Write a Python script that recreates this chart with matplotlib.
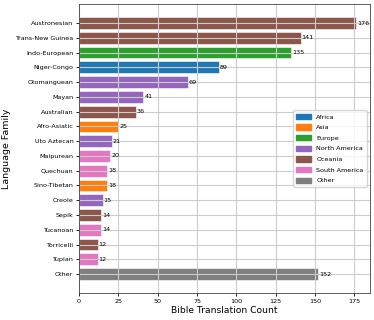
import matplotlib
matplotlib.use("Agg")
import matplotlib.pyplot as plt
from matplotlib.patches import Patch

families = ["Austronesian", "Trans-New Guinea", "Indo-European", "Niger-Congo",
            "Otomanguean", "Mayan", "Australian", "Afro-Asiatic", "Uto Aztecan",
            "Maipurean", "Quechuan", "Sino-Tibetan", "Creole", "Sepik",
            "Tucanoan", "Torricelli", "Tupian", "Other"]
counts = [176, 141, 135, 89, 69, 41, 36, 25, 21, 20, 18, 18, 15, 14, 14, 12, 12, 152]
regions = ["Oceania", "Oceania", "Europe", "Africa", "North America",
           "North America", "Oceania", "Asia", "North America", "South America",
           "South America", "Asia", "North America", "Oceania", "South America",
           "Oceania", "South America", "Other"]

region_colors = {
    "Africa": "tab:blue",
    "Asia": "tab:orange",
    "Europe": "tab:green",
    "North America": "tab:purple",
    "Oceania": "tab:brown",
    "South America": "tab:pink",
    "Other": "tab:gray",
}

fig, ax = plt.subplots(figsize=(3.74, 3.2), dpi=100)
fig.subplots_adjust(left=0.211, right=0.989, top=0.9875, bottom=0.084)

ypos = list(range(len(families)))
colors = [region_colors[r] for r in regions]
ax.barh(ypos, counts, color=colors, edgecolor="white", linewidth=0.4)
ax.set_yticks(ypos)
ax.set_yticklabels(families)
ax.invert_yaxis()

for y, c in zip(ypos, counts):
    ax.text(c + 0.5, y, str(c), va="center", ha="left", fontsize=4.6)

ax.grid(True, color="#cccccc", linewidth=0.8)
ax.set_xticks([0, 25, 50, 75, 100, 125, 150, 175])
ax.tick_params(labelsize=4.6, length=2.5, width=0.6, pad=1.5)
for s in ax.spines.values():
    s.set_linewidth(0.6)
    s.set_color("#444444")

ax.set_xlabel("Bible Translation Count", fontsize=6.6, labelpad=2)
ax.set_ylabel("Language Family", fontsize=6.8, labelpad=3)

handles = [Patch(color=col, label=name) for name, col in region_colors.items()]
ax.legend(handles=handles, loc="center right", fontsize=4.6,
          handlelength=2.3, handleheight=0.9, borderpad=0.5, labelspacing=0.75)

fig.savefig("out.png", dpi=100)
